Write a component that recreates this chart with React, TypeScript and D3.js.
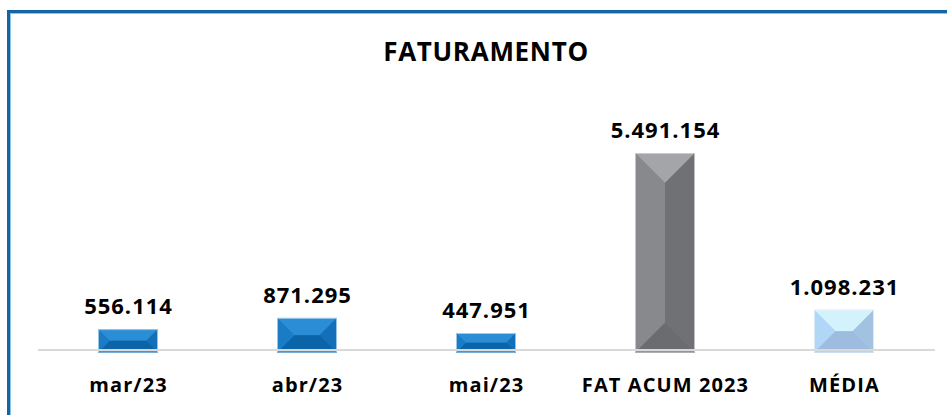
import React from "react";
import * as d3 from "d3";

const categories = ["mar/23", "abr/23", "mai/23", "FAT ACUM 2023", "MÉDIA"];
const values = [556114, 871295, 447951, 5491154, 1098231];
const valueLabels = ["556.114", "871.295", "447.951", "5.491.154", "1.098.231"];
const palettes = [
  { top: "#2a8dd6", left: "#1b7cc6", right: "#126fb8", bottom: "#0c64a8", center: "#1575bf", edge: "#b9d9f0" },
  { top: "#2a8dd6", left: "#1b7cc6", right: "#126fb8", bottom: "#0c64a8", center: "#1575bf", edge: "#b9d9f0" },
  { top: "#2a8dd6", left: "#1b7cc6", right: "#126fb8", bottom: "#0c64a8", center: "#1575bf", edge: "#b9d9f0" },
  { top: "#a4a5a8", left: "#88898c", right: "#707174", bottom: "#6b6c6f", center: "#7c7d80", edge: "#d4d5d7" },
  { top: "#d2f3fc", left: "#b2d6f6", right: "#a2c2e2", bottom: "#9dbce0", center: "#a8cbee", edge: "#e6f4fd" },
];

const W = 947;
const H = 415;
const FONT = "'Open Sans', 'DejaVu Sans', sans-serif";

export default function App() {
  const x = d3.scaleBand<string>().domain(categories).range([38.5, 933.5]).paddingInner(0.665).paddingOuter(0.3325);
  const y = d3.scaleLinear().domain([0, d3.max(values) as number]).range([349, 153]);
  const base = 352.5;
  const bw = x.bandwidth();

  return (
    <svg width={W} height={H} style={{ position: "absolute", left: 0, top: 0 }}>
      <rect x={0} y={0} width={W} height={H} fill="#ffffff" />
      <rect x={10.5} y={13.5} width={W + 10} height={H + 10} fill="none" stroke="#8fc3e6" strokeWidth={1} />
      <rect x={8.5} y={11.5} width={W + 10} height={H + 10} fill="none" stroke="#1565a6" strokeWidth={3} />
      <text x={486} y={61} textAnchor="middle" fontFamily={FONT} fontWeight={700} fontSize={26} letterSpacing={0.7} fill="#000">
        FATURAMENTO
      </text>
      {categories.map((c, i) => {
        const x0 = x(c) as number;
        const x1 = x0 + bw;
        const t = y(values[i]);
        const h = base - t;
        const b = Math.min(bw / 2, h / 2);
        const p = palettes[i];
        const pts = (a: number[][]) => a.map((q) => q.join(",")).join(" ");
        return (
          <g key={c}>
            <rect x={x0} y={t} width={bw} height={h} fill={p.center} />
            <polygon points={pts([[x0, t], [x1, t], [x1 - b, t + b], [x0 + b, t + b]])} fill={p.top} />
            <polygon points={pts([[x0, base], [x1, base], [x1 - b, base - b], [x0 + b, base - b]])} fill={p.bottom} />
            <polygon points={pts([[x0, t], [x0 + b, t + b], [x0 + b, base - b], [x0, base]])} fill={p.left} />
            <polygon points={pts([[x1, t], [x1 - b, t + b], [x1 - b, base - b], [x1, base]])} fill={p.right} />
            <rect x={x0 + 0.5} y={t + 0.5} width={bw - 1} height={h - 1} fill="none" stroke={p.edge} strokeWidth={1} opacity={0.8} />
            <text x={x0 + bw / 2 + 0.5} y={t - 15} textAnchor="middle" fontFamily={FONT} fontWeight={700} fontSize={22} letterSpacing={1} fill="#000">
              {valueLabels[i]}
            </text>
            <text x={x0 + bw / 2 + 0.5} y={392} textAnchor="middle" fontFamily={FONT} fontWeight={700} fontSize={20} letterSpacing={1.1} fill="#000">
              {c}
            </text>
          </g>
        );
      })}
      <line x1={38} x2={935} y1={350} y2={350} stroke="#d9d9d9" strokeWidth={2} />
    </svg>
  );
}
